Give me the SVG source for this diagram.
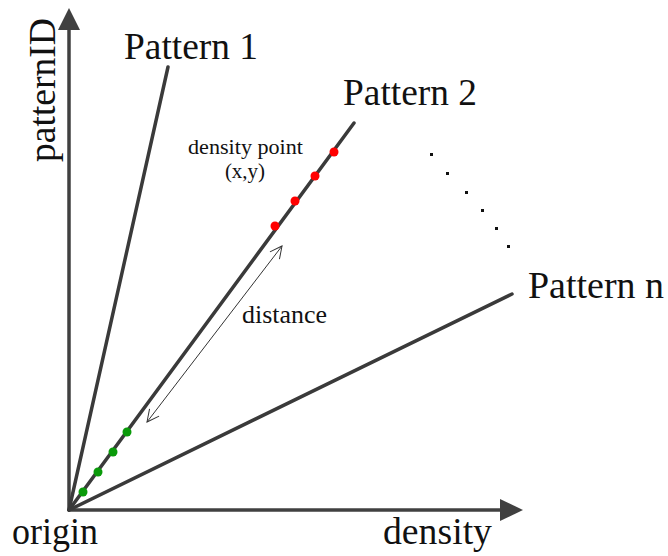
<svg xmlns="http://www.w3.org/2000/svg" width="668" height="556" viewBox="0 0 668 556">
<style>
.lbl{font-family:"Liberation Serif","DejaVu Serif",serif;fill:#111;}
.big{font-size:37px;}
.axis{stroke:#404040;stroke-width:3.5;fill:none;}
.pat{stroke:#3a3a3a;stroke-width:3.5;fill:none;stroke-linecap:round;}
.red{fill:#ff0000;}
.grn{fill:#0a9a0a;}
.dot{fill:#111;}
</style>
<defs>
<marker id="open" viewBox="0 0 14 14" refX="13" refY="7" markerWidth="14" markerHeight="14" markerUnits="userSpaceOnUse" orient="auto-start-reverse">
<path d="M1,1 L13,7 L1,13" fill="none" stroke="#333" stroke-width="1"/>
</marker>
</defs>
<g id="axes">
<line class="axis" x1="69" y1="511" x2="69" y2="28"/>
<polygon points="69,8 58,30 80,30" fill="#404040"/>
<line class="axis" x1="68" y1="510" x2="502" y2="510"/>
<polygon points="523,510 500,499 500,521" fill="#404040"/>
</g>
<g id="connectors">
<line id="pattern1-line" class="pat" x1="69" y1="510" x2="168" y2="67"/>
<line id="pattern2-line" class="pat" x1="69" y1="510" x2="354" y2="123"/>
<line id="patternn-line" class="pat" x1="69" y1="510" x2="512" y2="294"/>
<line id="distance-arrow" x1="147" y1="422" x2="282" y2="246" stroke="#333" stroke-width="1" marker-start="url(#open)" marker-end="url(#open)"/>
</g>
<g id="red-points">
<circle class="red" cx="334" cy="152" r="4.5"/>
<circle class="red" cx="315" cy="176" r="4.5"/>
<circle class="red" cx="295" cy="201" r="4.5"/>
<circle class="red" cx="275" cy="226" r="4.5"/>
</g>
<g id="green-points">
<circle class="grn" cx="127" cy="432" r="4.5"/>
<circle class="grn" cx="113" cy="452" r="4.5"/>
<circle class="grn" cx="98" cy="472" r="4.5"/>
<circle class="grn" cx="83" cy="492" r="4.5"/>
</g>
<g id="ellipsis">
<rect class="dot" x="430" y="153" width="3" height="3"/>
<rect class="dot" x="446" y="172" width="3" height="3"/>
<rect class="dot" x="465" y="191" width="3" height="3"/>
<rect class="dot" x="481" y="209" width="3" height="3"/>
<rect class="dot" x="495" y="227" width="3" height="3"/>
<rect class="dot" x="507" y="245" width="3" height="3"/>
</g>
<g id="labels">
<text class="lbl big" x="124" y="59" textLength="134" lengthAdjust="spacingAndGlyphs">Pattern 1</text>
<text class="lbl big" x="343" y="105" textLength="134" lengthAdjust="spacingAndGlyphs">Pattern 2</text>
<text class="lbl big" x="528" y="298" textLength="136" lengthAdjust="spacingAndGlyphs">Pattern n</text>
<text class="lbl big" x="12" y="544" textLength="86" lengthAdjust="spacingAndGlyphs">origin</text>
<text class="lbl big" x="383" y="544" textLength="109" lengthAdjust="spacingAndGlyphs">density</text>
<text class="lbl big" transform="translate(55,90) rotate(-90)" x="0" y="0" text-anchor="middle" textLength="144" lengthAdjust="spacingAndGlyphs">patternID</text>
<text class="lbl" x="188" y="154" font-size="20" textLength="115" lengthAdjust="spacingAndGlyphs">density point</text>
<text class="lbl" x="245" y="178" font-size="21" text-anchor="middle">(x,y)</text>
<text class="lbl" x="242" y="323" font-size="25" textLength="85" lengthAdjust="spacingAndGlyphs">distance</text>
</g>
</svg>
